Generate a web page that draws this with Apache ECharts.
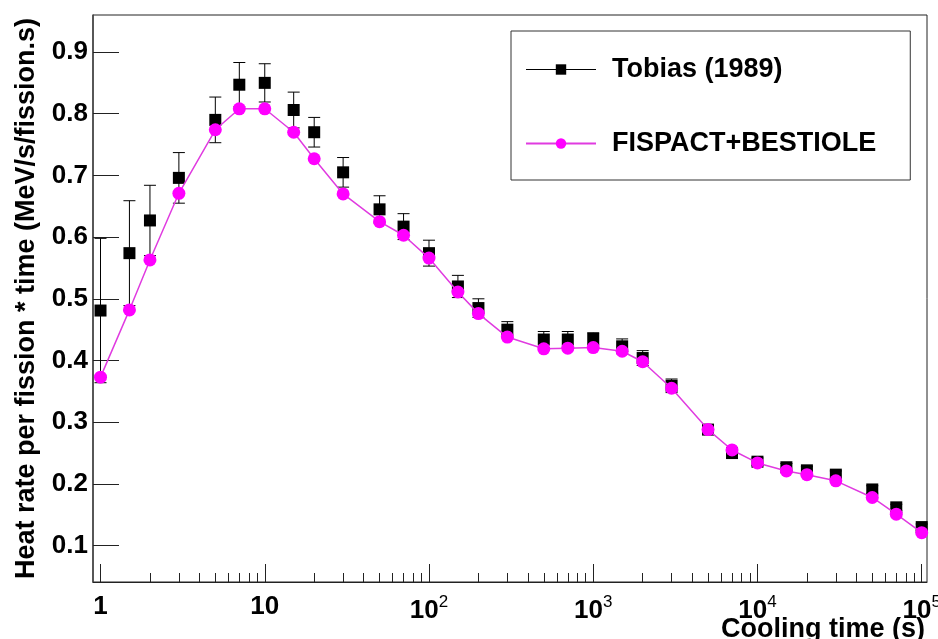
<!DOCTYPE html>
<html>
<head>
<meta charset="utf-8">
<script src="https://cdn.jsdelivr.net/npm/echarts@6/dist/echarts.min.js"></script>
<style>
html,body{margin:0;padding:0;background:#fff;}
#chart{width:938px;height:639px;}
</style>
</head>
<body>
<div id="chart"></div>
<script>
// ---- data ----
const coolingTime = [1,1.5,2,3,5,7,10,15,20,30,50,70,100,150,200,300,500,700,1000,1500,2000,3000,5000,7000,10000,15000,20000,30000,50000,70000,100000];
const tobias = [0.481,0.574,0.627,0.696,0.790,0.847,0.850,0.806,0.770,0.705,0.645,0.617,0.574,0.520,0.485,0.450,0.434,0.434,0.435,0.423,0.404,0.359,0.288,0.250,0.236,0.227,0.222,0.215,0.191,0.162,0.130];
const tobiasErr = [0.117,0.085,0.057,0.041,0.037,0.036,0.031,0.029,0.024,0.024,0.022,0.021,0.021,0.018,0.015,0.013,0.013,0.013,0.010,0.012,0.012,0.011,0.008,0.008,0.006,0.006,0.006,0.006,0.006,0.005,0.005];
const fispact = [0.373,0.482,0.563,0.671,0.774,0.808,0.808,0.770,0.727,0.670,0.625,0.603,0.566,0.511,0.476,0.438,0.419,0.420,0.421,0.415,0.398,0.355,0.288,0.255,0.234,0.221,0.215,0.205,0.178,0.151,0.121];
const xMajorTicks = [1,10,100,1000,10000,100000];
const xMinorTicks = [2,3,4,5,6,7,8,9,20,30,40,50,60,70,80,90,200,300,400,500,600,700,800,900,2000,3000,4000,5000,6000,7000,8000,9000,20000,30000,40000,50000,60000,70000,80000,90000];
const yTicks = [0.1,0.2,0.3,0.4,0.5,0.6,0.7,0.8,0.9];
const seriesNames = ['Tobias (1989)','FISPACT+BESTIOLE'];
const xAxisName = 'Cooling time (s)';
const yAxisName = 'Heat rate per fission * time (MeV/s/fission.s)';

const FONT = '"Liberation Sans", Arial, Helvetica, sans-serif';
const tobiasData = coolingTime.map((t,i)=>[t,tobias[i]]);
const fispactData = coolingTime.map((t,i)=>[t,fispact[i]]);
const errData = coolingTime.map((t,i)=>[t,tobias[i]-tobiasErr[i],tobias[i]+tobiasErr[i]]);

const chart = echarts.init(document.getElementById('chart'), null, {renderer:'canvas'});
const option = {
  animation:false,
  backgroundColor:'#fff',
  grid:{left:93, right:11, top:15, bottom:57, containLabel:false, outerBoundsMode:'none',
        show:true, borderColor:'#222', borderWidth:1, backgroundColor:'#fff'},
  legend:{
    orient:'vertical', left:511, top:31,
    padding:[25,34,23,14], itemGap:47, itemWidth:70, itemHeight:13,
    backgroundColor:'#fff', borderColor:'#333', borderWidth:1,
    textStyle:{fontFamily:FONT, fontSize:27, fontWeight:'bold', color:'#000', padding:[0,0,0,11]},
    data:[
      {name:seriesNames[0], lineStyle:{color:'#000', width:1, opacity:1}},
      {name:seriesNames[1]}
    ]
  },
  xAxis:[{
    type:'log', min:0.9, max:107700, logBase:10,
    name:xAxisName, nameLocation:'end', nameGap:-2, nameMoveOverlap:false,
    nameTextStyle:{fontFamily:FONT, fontSize:27, fontWeight:'bold', color:'#000', align:'right', verticalAlign:'top', padding:[34,0,0,0]},
    axisLine:{show:true, lineStyle:{color:'#222', width:1}},
    axisTick:{show:true, inside:true, length:18, customValues:xMajorTicks, lineStyle:{color:'#222', width:1}},
    axisLabel:{
      show:true, margin:12, customValues:xMajorTicks,
      formatter:function(v){
        const e = Math.round(Math.log10(v));
        if (e===0) return '{b|1}';
        if (e===1) return '{b|10}';
        return '{b|10}{s|'+e+'}';
      },
      rich:{
        b:{fontFamily:FONT, fontSize:26, fontWeight:'bold', color:'#000'},
        s:{fontFamily:FONT, fontSize:17, color:'#000', padding:[0,0,16,0]}
      }
    },
    splitLine:{show:false}
  },{
    type:'log', min:0.9, max:107700, logBase:10, position:'bottom',
    axisLine:{show:false},
    axisTick:{show:true, inside:true, length:9, customValues:xMinorTicks, lineStyle:{color:'#222', width:1}},
    axisLabel:{show:false},
    splitLine:{show:false}
  }],
  yAxis:{
    type:'value', min:0.041, max:0.96,
    name:yAxisName, nameLocation:'middle', nameGap:53, nameRotate:90, nameMoveOverlap:false,
    nameTextStyle:{fontFamily:FONT, fontSize:27, fontWeight:'bold', color:'#000'},
    axisLine:{show:true, lineStyle:{color:'#444', width:1.5}},
    axisTick:{show:true, inside:true, length:26, customValues:yTicks, lineStyle:{color:'#222', width:1}},
    axisLabel:{show:true, margin:5, customValues:yTicks, formatter:function(v){return v.toFixed(1);},
      fontFamily:FONT, fontSize:26, fontWeight:'bold', color:'#000'},
    splitLine:{show:false}
  },
  series:[
    {
      name:'errbars', type:'custom', xAxisIndex:0, yAxisIndex:0, z:1, silent:true,
      data:errData,
      renderItem:function(params, api){
        const x = api.value(0);
        const lo = api.coord([x, api.value(1)]);
        const hi = api.coord([x, api.value(2)]);
        const hw = 6;
        const st = {stroke:'#000', lineWidth:1};
        return {type:'group', children:[
          {type:'line', shape:{x1:lo[0], y1:lo[1], x2:hi[0], y2:hi[1]}, style:st},
          {type:'line', shape:{x1:hi[0]-hw, y1:hi[1], x2:hi[0]+hw, y2:hi[1]}, style:st},
          {type:'line', shape:{x1:lo[0]-hw, y1:lo[1], x2:lo[0]+hw, y2:lo[1]}, style:st}
        ]};
      }
    },
    {
      name:seriesNames[0], type:'line', xAxisIndex:0, z:2,
      data:tobiasData, symbol:'rect', symbolSize:12,
      itemStyle:{color:'#000'},
      lineStyle:{color:'#000', width:1, opacity:0}
    },
    {
      name:seriesNames[1], type:'line', xAxisIndex:0, z:3,
      data:fispactData, symbol:'circle', symbolSize:13,
      itemStyle:{color:'#ff00ff'},
      lineStyle:{color:'#e03be0', width:1.5}
    }
  ]
};
chart.setOption(option);
</script>
</body>
</html>
